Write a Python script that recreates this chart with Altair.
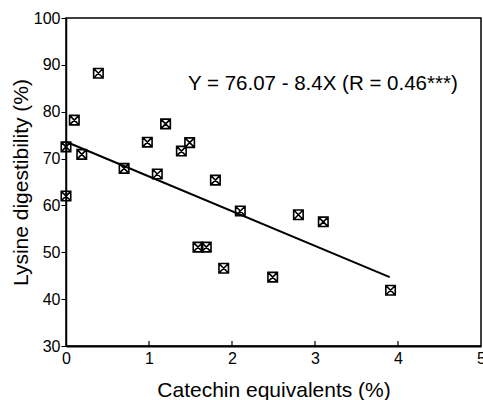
import altair as alt
import pandas as pd

# Data
catechin = [0.0, 0.0, 0.1, 0.19, 0.39, 0.70, 0.98, 1.10, 1.20, 1.39, 1.49, 1.80,
            2.10, 1.59, 1.69, 1.90, 2.80, 3.10, 2.49, 3.91]
lysine = [72.5, 62.0, 78.2, 70.9, 88.2, 67.9, 73.5, 66.7, 77.4, 71.6, 73.4, 65.4,
          58.8, 51.1, 51.1, 46.6, 58.0, 56.5, 44.7, 41.9]

fit_x = [0.0, 3.9]
fit_y = [73.6, 44.7]

x_ticks = [0, 1, 2, 3, 4, 5]
y_ticks = [30, 40, 50, 60, 70, 80, 90, 100]

note_text = ["Y = 76.07 - 8.4X (R = 0.46***)"]
note_x = [1.47]
note_y = [86.0]

pts = pd.DataFrame({"x": catechin, "y": lysine})
fit = pd.DataFrame({"x": fit_x, "y": fit_y})
note = pd.DataFrame({"x": note_x, "y": note_y, "t": note_text})
xt = pd.DataFrame({"x": x_ticks[1:-1]})

FONT = "Liberation Sans"

xscale = alt.Scale(domain=[0, 5], nice=False, zero=False)
yscale = alt.Scale(domain=[30, 100], nice=False, zero=False)

xaxis = alt.Axis(values=x_ticks, format="d", title="Catechin equivalents (%)",
                 ticks=False, labelPadding=4, grid=False,
                 titleFontSize=21, titleFontWeight="normal", titleBaseline="alphabetic",
                 titleY=50, labelFontSize=16, titleFont=FONT, labelFont=FONT,
                 domainColor="black", domainWidth=2,
                 labelColor="black", titleColor="black", labelFlush=False,
                 labelOverlap=False)
yaxis = alt.Axis(values=y_ticks, format="d", title="Lysine digestibility (%)",
                 tickSize=5, labelPadding=1, grid=False,
                 titleFontSize=21, titleFontWeight="normal", titleBaseline="alphabetic",
                 titleX=-39, titleAngle=270, labelFontSize=16, titleFont=FONT, labelFont=FONT,
                 domainColor="black", domainWidth=1.5, tickColor="black",
                 labelColor="black", titleColor="black", labelFlush=False,
                 labelOverlap=False)

XBOX = "M-1,-1L1,-1L1,1L-1,1Z M-1,-1L1,1 M1,-1L-1,1"

points = alt.Chart(pts).mark_point(shape=XBOX, filled=False, size=90, strokeWidth=1.6,
                                   color="black", opacity=1).encode(
    x=alt.X("x:Q", scale=xscale, axis=xaxis),
    y=alt.Y("y:Q", scale=yscale, axis=yaxis),
)

line = alt.Chart(fit).mark_line(color="black", strokeWidth=2).encode(
    x=alt.X("x:Q", scale=xscale),
    y=alt.Y("y:Q", scale=yscale),
)

inner_ticks = alt.Chart(xt).mark_rule(color="black", strokeWidth=1.2).encode(
    x=alt.X("x:Q", scale=xscale),
    y=alt.value(323),
    y2=alt.value(328),
)

text = alt.Chart(note).mark_text(align="left", baseline="middle", fontSize=20.5,
                                 font=FONT, color="black").encode(
    x=alt.X("x:Q", scale=xscale),
    y=alt.Y("y:Q", scale=yscale),
    text="t:N",
)

chart = alt.layer(line, inner_ticks, points, text).properties(
    width=415, height=328,
    autosize=alt.AutoSizeParams(type="none"),
    padding={"left": 66, "top": 18, "right": 2, "bottom": 54},
    background="white",
).configure_view(stroke="black", strokeWidth=1.5)

chart.save("out.html", embed_options={"renderer": "svg", "actions": False})
